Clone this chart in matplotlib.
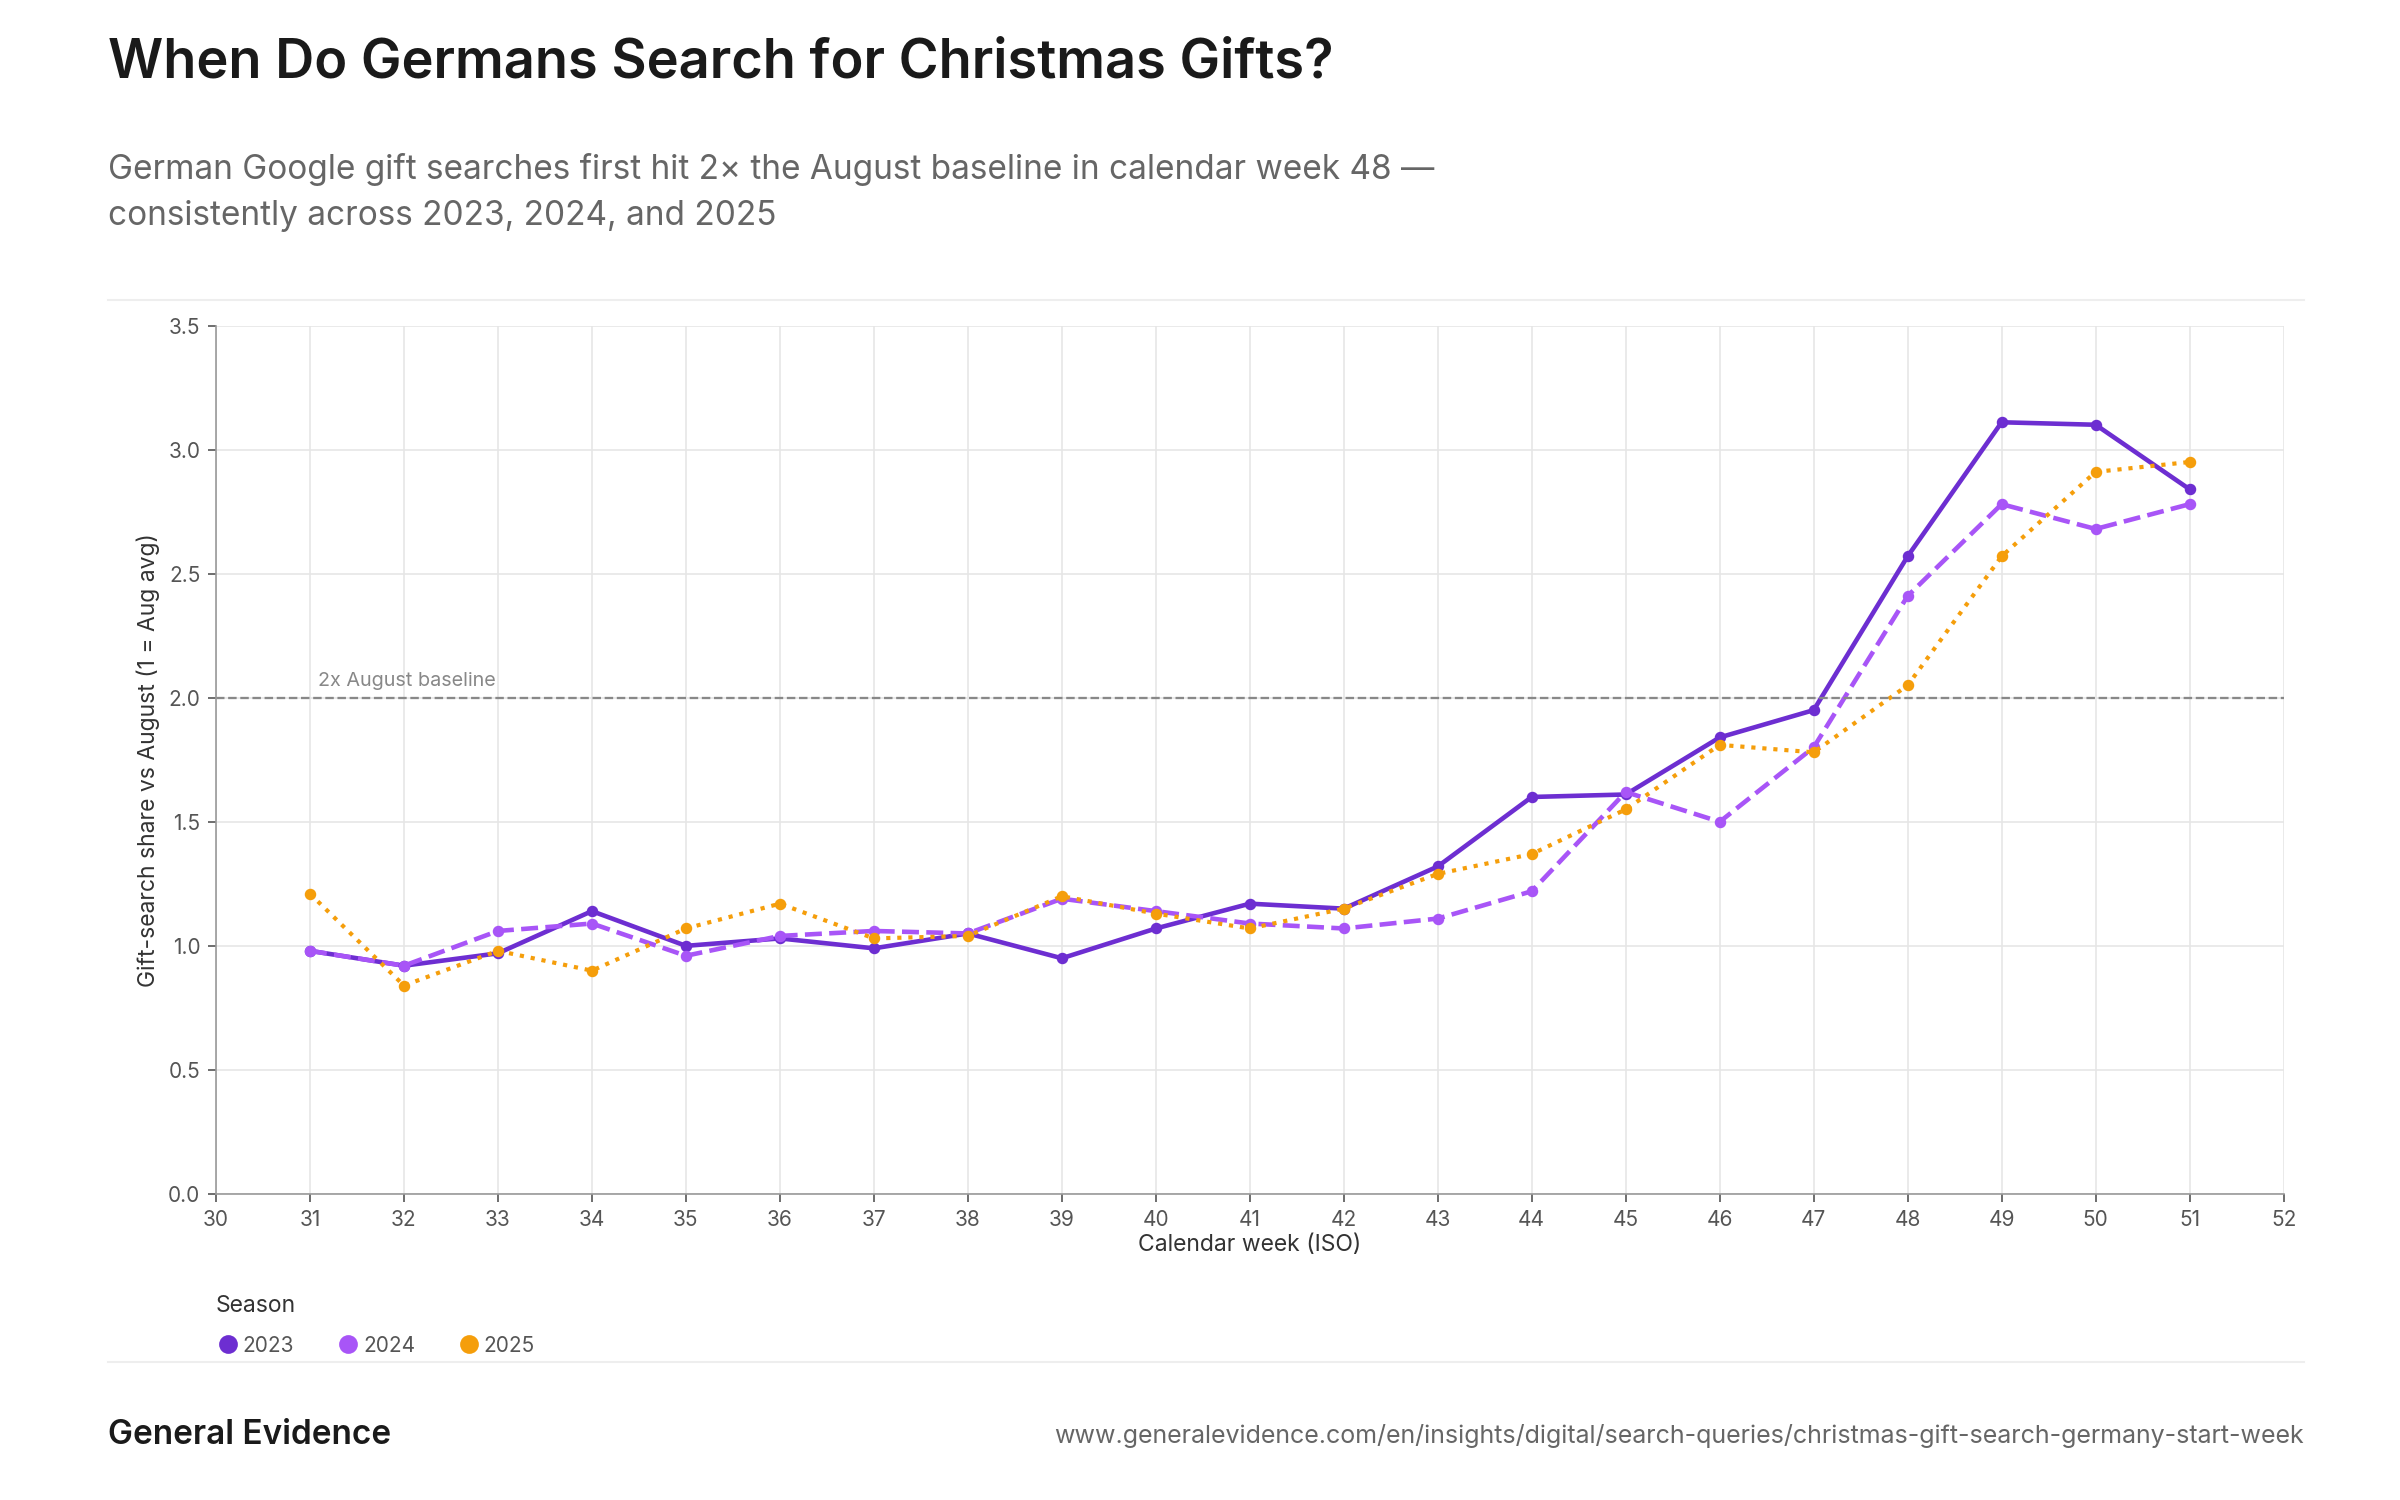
import matplotlib
matplotlib.use("Agg")
import matplotlib.pyplot as plt
from matplotlib.lines import Line2D

weeks = list(range(31, 52))
s2023 = [0.98, 0.92, 0.97, 1.14, 1.00, 1.03, 0.99, 1.05, 0.95, 1.07, 1.17, 1.15, 1.32, 1.60, 1.61, 1.84, 1.95, 2.57, 3.11, 3.10, 2.84]
s2024 = [0.98, 0.92, 1.06, 1.09, 0.96, 1.04, 1.06, 1.05, 1.19, 1.14, 1.09, 1.07, 1.11, 1.22, 1.62, 1.50, 1.80, 2.41, 2.78, 2.68, 2.78]
s2025 = [1.21, 0.84, 0.98, 0.90, 1.07, 1.17, 1.03, 1.04, 1.20, 1.13, 1.07, 1.15, 1.29, 1.37, 1.55, 1.81, 1.78, 2.05, 2.57, 2.91, 2.95]
seasons = ["2023", "2024", "2025"]
colors = ["#6d2ed1", "#a855f7", "#f59e0b"]
styles = ["-", "--", ":"]

plt.rcParams['font.family'] = ['Inter', 'DejaVu Sans']
fig = plt.figure(figsize=(16, 10), dpi=150)
ax = fig.add_axes([0.090, 0.204, 0.8615, 0.579])
for s, c, ls, lab in zip([s2023, s2024, s2025], colors, styles, seasons):
    ax.plot(weeks, s, ls, color=c, lw=2.2 if ls != ":" else 2.0, marker="o", ms=4.5, label=lab)
ax.axhline(2.0, color="#888888", ls="--", lw=1.1)
ax.text(31.08, 2.03, "2x August baseline", color="#888888", fontsize=9.5, va="bottom")
ax.set_xlim(30, 52)
ax.set_ylim(0, 3.5)
ax.set_xticks(range(30, 53))
ax.set_yticks([0, 0.5, 1, 1.5, 2, 2.5, 3, 3.5])
ax.set_yticklabels([f"{v:.1f}" for v in ax.get_yticks()])
ax.grid(True, color="#e6e6e6", lw=0.8)
ax.set_axisbelow(True)
for sp in ["top", "right"]:
    ax.spines[sp].set_visible(False)
for sp in ["left", "bottom"]:
    ax.spines[sp].set_color("#999999")
ax.tick_params(colors="#555555", labelsize=10, length=4)
ax.set_xlabel("Calendar week (ISO)", fontsize=11, color="#333333", labelpad=2)
ax.set_ylabel("Gift-search share vs August (1 = Aug avg)", fontsize=11, color="#333333")

fig.text(0.045, 0.975, "When Do Germans Search for Christmas Gifts?", fontsize=26, weight="semibold", color="#1a1a1a", va="top")
fig.text(0.045, 0.898, "German Google gift searches first hit 2× the August baseline in calendar week 48 —\nconsistently across 2023, 2024, and 2025",
         fontsize=16, color="#666666", va="top", linespacing=1.55)
fig.add_artist(Line2D([0.045, 0.96], [0.8, 0.8], color="#eeeeee", lw=1))
fig.add_artist(Line2D([0.045, 0.96], [0.092, 0.092], color="#eeeeee", lw=1))

fig.text(0.090, 0.125, "Season", fontsize=11, color="#333333")
handles = [Line2D([], [], ls="none", color=c, marker="o", ms=8) for c in colors]
leg = fig.legend(handles, seasons, loc="upper left", bbox_to_anchor=(0.082, 0.122), ncol=3, frameon=False,
                 fontsize=10, handletextpad=0.1, columnspacing=2.0, handlelength=1.2)
for t in leg.get_texts():
    t.set_color("#555555")

fig.text(0.045, 0.043, "General Evidence", fontsize=16, weight="semibold", color="#1a1a1a", va="center")
fig.text(0.96, 0.043, "www.generalevidence.com/en/insights/digital/search-queries/christmas-gift-search-germany-start-week",
         fontsize=12, color="#666666", va="center", ha="right")
fig.savefig("out.png", dpi=150)
